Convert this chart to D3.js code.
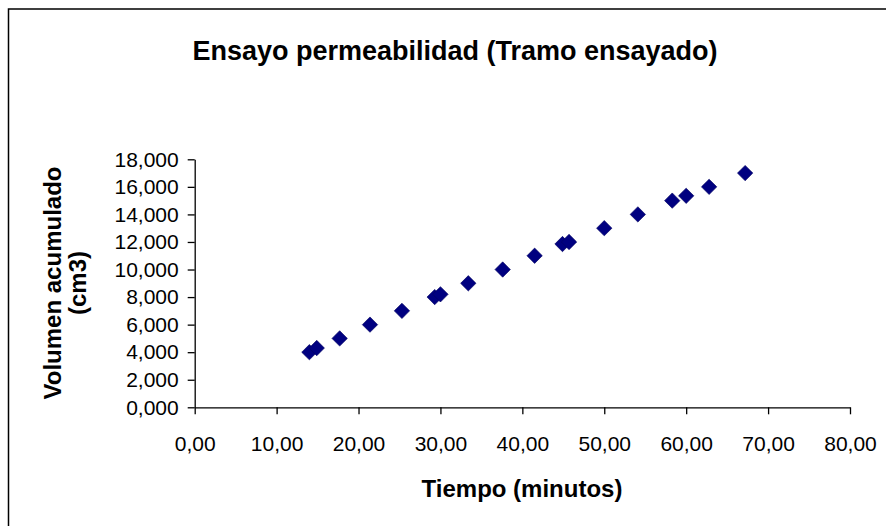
<!DOCTYPE html>
<html>
<head>
<meta charset="utf-8">
<script src="https://cdn.jsdelivr.net/npm/d3@7"></script>
<style>
  body { margin: 0; background: #fff; }
  text { font-family: "Liberation Sans", Arial, sans-serif; fill: #000; }
</style>
</head>
<body>
<div id="chart"></div>
<script>
// tiempo (min) y volumen acumulado
const tiempo = [14.0, 14.9, 17.7, 21.4, 25.3, 29.3, 30.0, 33.4, 37.6, 41.5,
                44.9, 45.7, 50.0, 54.1, 58.3, 60.0, 62.8, 67.2];
const volumen = [4.0, 4.3, 5.0, 6.0, 7.0, 8.0, 8.2, 9.0, 10.0, 11.0,
                 11.85, 12.0, 13.0, 14.0, 15.0, 15.35, 16.0, 17.0];
const xTicks = [0, 10, 20, 30, 40, 50, 60, 70, 80];
const yTicks = [0, 2, 4, 6, 8, 10, 12, 14, 16, 18];
const titulo = "Ensayo permeabilidad (Tramo ensayado)";
const tituloX = "Tiempo (minutos)";
const tituloY = ["Volumen acumulado", "(cm3)"];

const width = 886, height = 526;
const margin = {top: 159.3, right: 36, bottom: 118.7, left: 194.7};

// separador decimal con coma
const es = d3.formatLocale({decimal: ",", thousands: ".", grouping: [3], currency: ["", "€"]});

const svg = d3.select("#chart")
  .append("svg")
  .attr("width", width)
  .attr("height", height);

// marco exterior
svg.append("rect")
  .attr("x", 8.5)
  .attr("y", 9)
  .attr("width", width)
  .attr("height", height)
  .attr("fill", "none")
  .attr("stroke", "#000")
  .attr("stroke-width", 1.5);

const x = d3.scaleLinear().domain([0, 80]).range([margin.left, width - margin.right]);
const y = d3.scaleLinear().domain([0, 18]).range([height - margin.bottom, margin.top]);

// eje x
const gx = svg.append("g")
  .attr("transform", `translate(0,${height - margin.bottom})`)
  .call(d3.axisBottom(x).tickValues(xTicks).tickFormat(es.format(".2f")).tickSize(7).tickSizeOuter(0));

// eje y
const gy = svg.append("g")
  .attr("transform", `translate(${margin.left},0)`)
  .call(d3.axisLeft(y).tickValues(yTicks).tickFormat(es.format(".3f")).tickSize(7).tickSizeOuter(0));

[gx, gy].forEach(g => {
  g.select(".domain").attr("stroke", "#000").attr("stroke-width", 1.3);
  g.selectAll(".tick line").attr("stroke", "#000").attr("stroke-width", 1.3);
  g.selectAll(".tick text")
    .attr("font-family", "Liberation Sans, Arial, sans-serif")
    .attr("font-size", 21)
    .attr("fill", "#000");
});
gx.selectAll(".tick text").attr("y", 0).attr("dy", "2.1em");
gy.selectAll(".tick text").attr("x", -16);

// puntos (rombos)
svg.append("g")
  .selectAll("path")
  .data(tiempo.map((t, i) => [t, volumen[i]]))
  .join("path")
  .attr("d", d3.symbol(d3.symbolSquare, 118))
  .attr("transform", d => `translate(${x(d[0])},${y(d[1])}) rotate(45)`)
  .attr("fill", "#000080")
  .attr("stroke", "#000060")
  .attr("stroke-width", 0.6);

// titulos
svg.append("text")
  .attr("x", 455)
  .attr("y", 60)
  .attr("text-anchor", "middle")
  .attr("font-size", 27)
  .attr("font-weight", "bold")
  .text(titulo);

svg.append("text")
  .attr("x", 522)
  .attr("y", 497)
  .attr("text-anchor", "middle")
  .attr("font-size", 24)
  .attr("font-weight", "bold")
  .text(tituloX);

svg.append("g")
  .attr("transform", "translate(0,283) rotate(-90)")
  .selectAll("text")
  .data(tituloY)
  .join("text")
  .attr("x", 0)
  .attr("y", (d, i) => 61 + i * 25)
  .attr("text-anchor", "middle")
  .attr("font-size", 24)
  .attr("font-weight", "bold")
  .text(d => d);
</script>
</body>
</html>
